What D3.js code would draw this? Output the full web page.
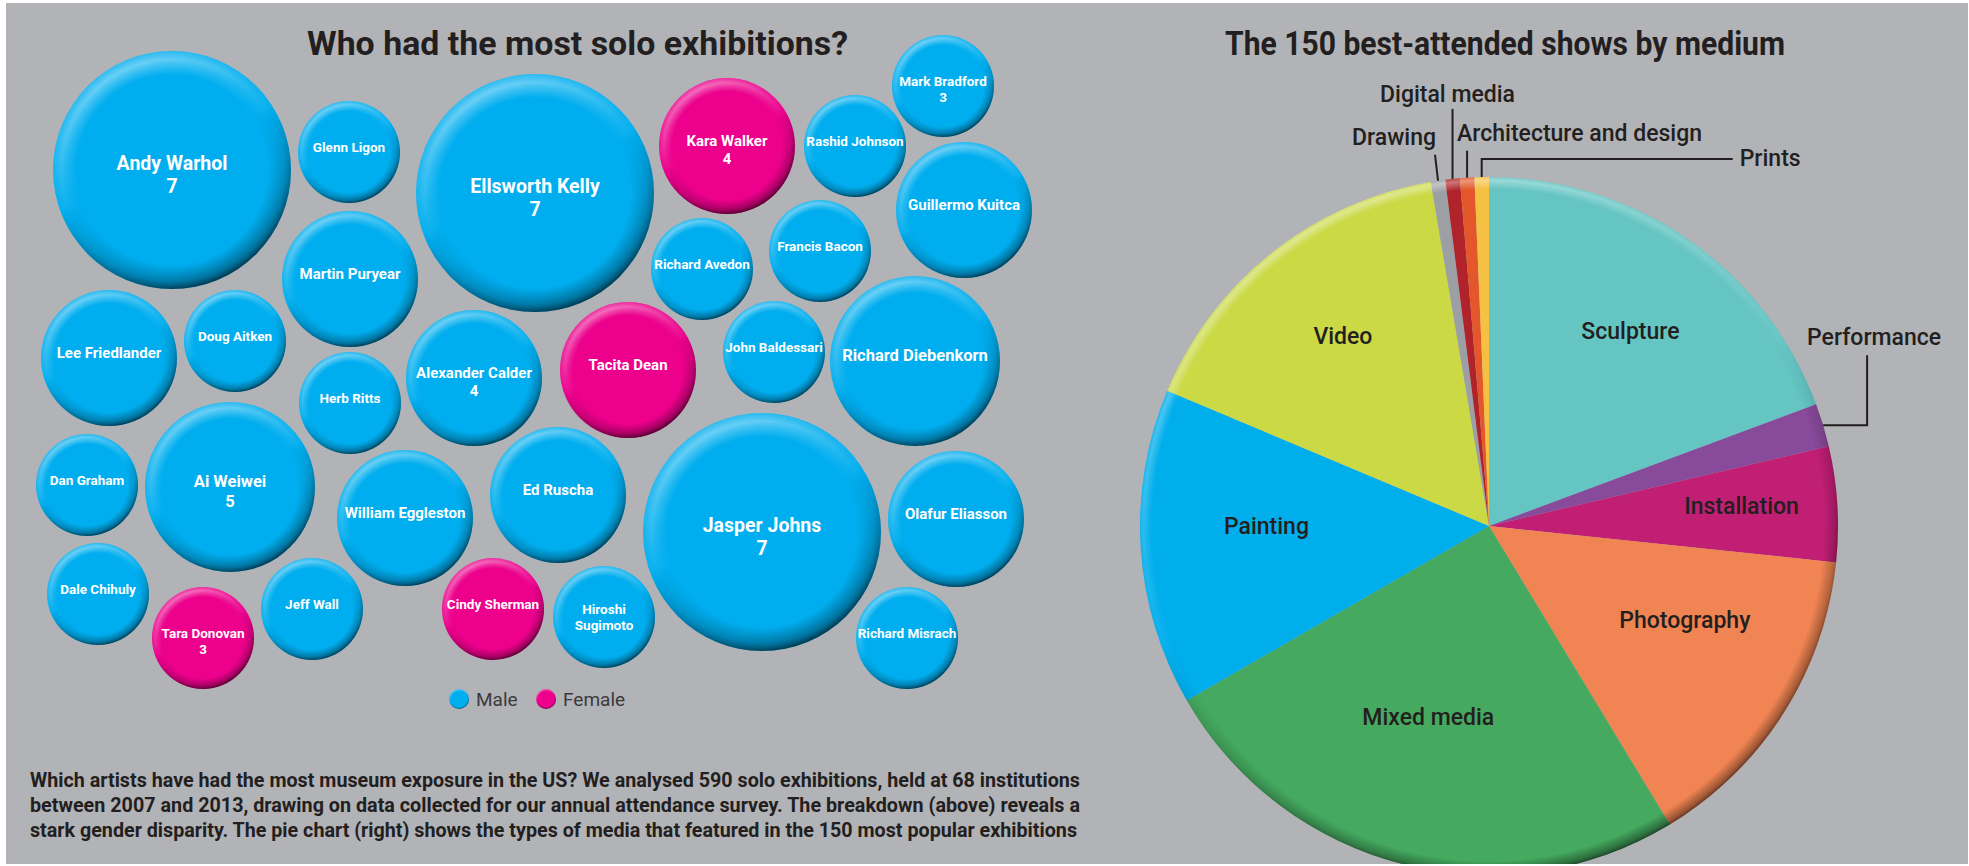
<!DOCTYPE html>
<html>
<head>
  <meta charset="utf-8">
  <title>Solo exhibitions and media</title>
  <style>
    body { margin: 0; background: #fff; }
    svg text { font-family: Roboto, "Liberation Sans", "DejaVu Sans", sans-serif; }
  </style>
</head>
<body>
  <script src="https://d3js.org/d3.v7.min.js"></script>
  <script>
    // Solo exhibitions per artist, 2007-2013
    var artists = ["Andy Warhol", "Glenn Ligon", "Ellsworth Kelly", "Kara Walker", "Rashid Johnson",
      "Mark Bradford", "Guillermo Kuitca", "Martin Puryear", "Richard Avedon", "Francis Bacon",
      "Lee Friedlander", "Doug Aitken", "Alexander Calder", "Tacita Dean", "John Baldessari",
      "Richard Diebenkorn", "Herb Ritts", "Dan Graham", "Ai Weiwei", "William Eggleston",
      "Ed Ruscha", "Jasper Johns", "Olafur Eliasson", "Dale Chihuly", "Tara Donovan",
      "Jeff Wall", "Cindy Sherman", "Hiroshi Sugimoto", "Richard Misrach"];
    var shows = [7, 3, 7, 4, 3, 3, 4, 4, 3, 3, 4, 3, 4, 4, 3, 5, 3, 3, 5, 4, 4, 7, 4, 3, 3, 3, 3, 3, 3];
    var gender = ["M", "M", "M", "F", "M", "M", "M", "M", "M", "M", "M", "M", "M", "F", "M",
      "M", "M", "M", "M", "M", "M", "M", "M", "M", "F", "M", "F", "M", "M"];
    // bubbles that print their number
    var labelled = ["Andy Warhol", "Ellsworth Kelly", "Jasper Johns", "Ai Weiwei", "Kara Walker",
      "Alexander Calder", "Mark Bradford", "Tara Donovan"];

    // The 150 best-attended shows by medium
    var media = ["Sculpture", "Performance", "Installation", "Photography", "Mixed media", "Painting",
      "Video", "Drawing", "Digital media", "Architecture and design", "Prints"];
    var mediaCounts = [29, 3, 8, 22, 38, 22, 24, 1, 1, 1, 1];

    var intro = [
      "Which artists have had the most museum exposure in the US? We analysed 590 solo exhibitions, held at 68 institutions",
      "between 2007 and 2013, drawing on data collected for our annual attendance survey. The breakdown (above) reveals a",
      "stark gender disparity. The pie chart (right) shows the types of media that featured in the 150 most popular exhibitions"
    ];

    // hand-placed slots for the bubble cloud, settled below with a collide force
    var slots = [[172, 170], [349, 152], [535, 193], [727, 146], [855, 146], [943, 86], [964, 210],
      [350, 279], [702, 269], [820, 251], [109, 358], [235, 341], [474, 378], [628, 370], [774, 352],
      [915, 361], [350, 403], [87, 485], [230, 487], [405, 518], [558, 495], [762, 532], [956, 519],
      [98, 594], [203, 638], [312, 609], [493, 609], [604, 617], [907, 638]];

    var colors = { M: "#00aeef", F: "#ec008c" };
    var mediaColors = ["#64c5c3", "#884a9b", "#c01f74", "#f08452", "#45a95f", "#00aeec",
      "#cbd945", "#9c9fa3", "#b0232a", "#e4572a", "#f6c143"];
    var ink = "#231f20";

    var width = 1969, height = 866;
    var svg = d3.select("body").append("svg")
      .attr("width", width)
      .attr("height", height);

    var defs = svg.append("defs");

    // rim shading used for the bevelled look
    function radial(id, color, stops) {
      var g = defs.append("radialGradient").attr("id", id);
      stops.forEach(function (s) {
        g.append("stop").attr("offset", s[0]).attr("stop-color", color).attr("stop-opacity", s[1]);
      });
    }
    radial("rimLight", "#fff", [[0, 0], [0.8, 0], [0.93, 0.5], [1, 0.2]]);
    radial("rimDark", "#000", [[0, 0], [0.8, 0], [0.94, 0.4], [1, 0.75]]);
    radial("pieLight", "#fff", [[0, 0], [0.965, 0], [0.99, 0.45], [1, 0.2]]);
    radial("pieDark", "#000", [[0, 0], [0.96, 0], [0.99, 0.4], [1, 0.65]]);

    function fadeMask(id, stops) {
      var lg = defs.append("linearGradient").attr("id", id + "Grad")
        .attr("x1", 0.25).attr("y1", 0).attr("x2", 0.75).attr("y2", 1);
      stops.forEach(function (s) {
        lg.append("stop").attr("offset", s[0]).attr("stop-color", s[1]);
      });
      defs.append("mask").attr("id", id).attr("maskContentUnits", "objectBoundingBox")
        .append("rect").attr("width", 1).attr("height", 1).attr("fill", "url(#" + id + "Grad)");
    }
    fadeMask("maskTop", [[0, "#fff"], [0.5, "#000"]]);
    fadeMask("maskBottom", [[0.45, "#000"], [1, "#fff"]]);

    defs.append("clipPath").attr("id", "panel")
      .append("rect").attr("x", 6).attr("y", 3).attr("width", 1962).attr("height", 861);

    svg.append("rect")
      .attr("x", 6).attr("y", 3).attr("width", 1962).attr("height", 861)
      .attr("fill", "#b2b3b7");

    var root = svg.append("g").attr("clip-path", "url(#panel)");

    function bevel(sel, light, dark) {
      sel.append("circle").attr("r", function (d) { return d.r; })
        .attr("fill", "url(#" + light + ")").attr("mask", "url(#maskTop)");
      sel.append("circle").attr("r", function (d) { return d.r; })
        .attr("fill", "url(#" + dark + ")").attr("mask", "url(#maskBottom)");
    }

    // ---------- bubbles ----------
    var r = d3.scaleLinear().domain([0, 7]).range([0, 119]);
    var fontSize = d3.scaleLinear().domain([3, 7]).range([13.5, 19.5]);

    var nodes = artists.map(function (name, i) {
      return {
        name: name, value: shows[i], gender: gender[i], r: r(shows[i]),
        x: slots[i][0], y: slots[i][1], tx: slots[i][0], ty: slots[i][1]
      };
    });

    var sim = d3.forceSimulation(nodes)
      .force("x", d3.forceX(function (d) { return d.tx; }).strength(0.6))
      .force("y", d3.forceY(function (d) { return d.ty; }).strength(0.6))
      .force("collide", d3.forceCollide(function (d) { return d.r + 2; }))
      .stop();
    for (var i = 0; i < 150; i++) sim.tick();

    var bubble = root.append("g").selectAll("g")
      .data(nodes)
      .enter().append("g")
      .attr("transform", function (d) { return "translate(" + d.x + "," + d.y + ")"; });

    bubble.append("circle")
      .attr("r", function (d) { return d.r; })
      .attr("fill", function (d) { return colors[d.gender]; });
    bevel(bubble, "rimLight", "rimDark");

    bubble.each(function (d) {
      var fs = fontSize(d.value);
      var lines, start;
      if (d.name === "Hiroshi Sugimoto") {
        lines = ["Hiroshi", "Sugimoto"];
        start = -0.25 * fs;
      } else {
        lines = [d.name];
        if (labelled.indexOf(d.name) >= 0) lines.push(String(d.value));
        start = 0;
      }
      d3.select(this).selectAll("text")
        .data(lines)
        .enter().append("text")
        .attr("text-anchor", "middle")
        .attr("y", function (t, k) { return start + k * fs * 1.2; })
        .attr("fill", "#fff")
        .attr("font-size", fs)
        .attr("font-weight", 700)
        .text(function (t) { return t; });
    });

    // legend
    var legend = root.append("g").attr("transform", "translate(459,699)");
    var legendItems = legend.selectAll("g")
      .data([{ key: "M", label: "Male", r: 10 }, { key: "F", label: "Female", r: 10 }])
      .enter().append("g")
      .attr("transform", function (d, k) { return "translate(" + (k * 87) + ",0)"; });
    legendItems.append("circle").attr("r", 10).attr("fill", function (d) { return colors[d.key]; });
    bevel(legendItems, "rimLight", "rimDark");
    legendItems.append("text")
      .attr("x", 17).attr("y", 7)
      .attr("font-size", 19)
      .attr("fill", "#3a3a3c")
      .text(function (d) { return d.label; });

    // titles
    root.append("text")
      .attr("x", 307).attr("y", 55)
      .attr("textLength", 541).attr("lengthAdjust", "spacingAndGlyphs")
      .attr("font-size", 34).attr("font-weight", 700).attr("fill", ink)
      .text("Who had the most solo exhibitions?");
    root.append("text")
      .attr("x", 1225).attr("y", 55)
      .attr("textLength", 560).attr("lengthAdjust", "spacingAndGlyphs")
      .attr("font-size", 34).attr("font-weight", 700).attr("fill", ink)
      .text("The 150 best-attended shows by medium");

    // intro paragraph, justified
    root.append("g").selectAll("text")
      .data(intro)
      .enter().append("text")
      .attr("x", 30)
      .attr("y", function (d, k) { return 787 + k * 25; })
      .attr("textLength", function (d, k) { return k === 2 ? 1047 : 1050; })
      .attr("lengthAdjust", "spacingAndGlyphs")
      .attr("font-size", 20).attr("font-weight", 700).attr("fill", ink)
      .text(function (d) { return d; });

    // ---------- pie ----------
    var cx = 1489, cy = 526, radius = 349;
    var pieData = media.map(function (m, k) { return { name: m, value: mediaCounts[k], color: mediaColors[k] }; });
    var arcs = d3.pie().sort(null).value(function (d) { return d.value; })(pieData);
    var arc = d3.arc().innerRadius(0).outerRadius(radius);
    var labelArc = d3.arc().innerRadius(232).outerRadius(232);
    var edgeArc = d3.arc().innerRadius(radius).outerRadius(radius);

    var pie = root.append("g").attr("transform", "translate(" + cx + "," + cy + ")");
    pie.selectAll("path.slice")
      .data(arcs)
      .enter().append("path")
      .attr("class", "slice")
      .attr("d", arc)
      .attr("fill", function (d) { return d.data.color; });
    bevel(pie.append("g").datum({ r: radius }), "pieLight", "pieDark");

    // labels inside the big slices
    var nudge = {
      "Sculpture": [9, -5], "Video": [-2, -8], "Installation": [21, -5],
      "Painting": [9, -15], "Photography": [0, -30], "Mixed media": [-3, -34]
    };
    pie.selectAll("text.inside")
      .data(arcs.filter(function (d) { return nudge[d.data.name]; }))
      .enter().append("text")
      .attr("class", "inside")
      .attr("transform", function (d) {
        var c = labelArc.centroid(d), n = nudge[d.data.name];
        return "translate(" + (c[0] + n[0]) + "," + (c[1] + n[1]) + ")";
      })
      .attr("dy", "0.35em")
      .attr("text-anchor", "middle")
      .attr("font-size", 23).attr("font-weight", 500).attr("fill", ink)
      .text(function (d) { return d.data.name; });

    // call-outs for the thin slices
    var callout = {
      "Drawing": { legs: [[-3, -26]], anchor: "end", dx: 1, dy: -10 },
      "Digital media": { legs: [[0, -70]], anchor: "middle", dx: -5, dy: -7 },
      "Architecture and design": { legs: [[0, -27]], anchor: "start", dx: -10, dy: -10 },
      "Prints": { legs: [[0, -18], [251, 0]], anchor: "start", dx: 7, dy: 7 },
      "Performance": { legs: [[44, 0], [0, -70]], anchor: "middle", dx: 7, dy: -10 }
    };
    arcs.filter(function (d) { return callout[d.data.name]; }).forEach(function (d) {
      var c = callout[d.data.name];
      var p = edgeArc.centroid(d);
      var pts = [p.slice()];
      c.legs.forEach(function (l) {
        p = [p[0] + l[0], p[1] + l[1]];
        pts.push(p);
      });
      pie.append("path")
        .attr("d", d3.line()(pts))
        .attr("fill", "none")
        .attr("stroke", ink)
        .attr("stroke-width", 2);
      pie.append("text")
        .attr("x", p[0] + c.dx).attr("y", p[1] + c.dy)
        .attr("text-anchor", c.anchor)
        .attr("font-size", 23).attr("font-weight", 500).attr("fill", ink)
        .text(d.data.name);
    });
  </script>
</body>
</html>
